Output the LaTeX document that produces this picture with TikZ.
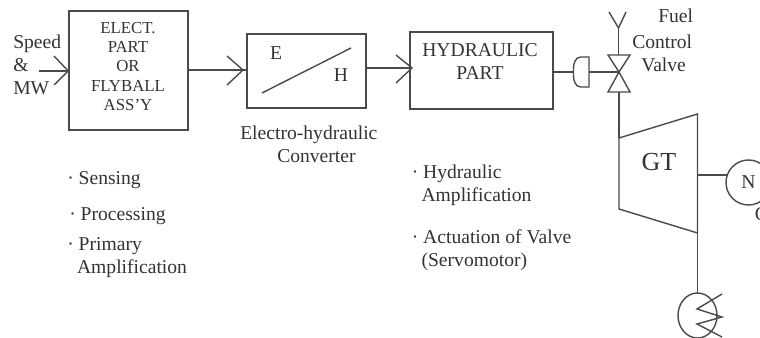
\documentclass[tikz,border=0pt]{standalone}
\usepackage{fontspec}
\setmainfont{Liberation Serif}
\definecolor{ink}{HTML}{4A4A4A}
\definecolor{txt}{HTML}{333333}
\tikzset{
  x=0.75pt,y=-0.75pt,
  ln/.style={draw=ink,line width=1.05pt},
  blockbox/.style={draw=ink,line width=1.2pt,inner sep=0pt},
  small/.style={text=txt,inner sep=0pt,align=center,font=\fontsize{12.6}{14.5}\selectfont},
  lab/.style={text=txt,inner sep=0pt,align=left,anchor=base west,font=\fontsize{14.7}{17.5}\selectfont},
  mid/.style={text=txt,inner sep=0pt,align=center,font=\fontsize{14.7}{17.2}\selectfont},
  big/.style={text=txt,inner sep=0pt,font=\fontsize{19.5}{22}\selectfont},
}
\begin{document}
\begin{tikzpicture}
\useasboundingbox (0,0) rectangle (760,338);
\begin{scope}
\clip (0,0) rectangle (760,338);
\node[blockbox,minimum width=89.25pt,minimum height=89.25pt] (b1) at (128.5,70.5) {};
\node[small] (b1t) at (128,66.5) {ELECT.\\PART\\OR\\FLYBALL\\ASS’Y};
\node[blockbox,minimum width=89.25pt,minimum height=55.5pt] (b2) at (306.5,71) {};
\node[blockbox,minimum width=107.25pt,minimum height=57.75pt] (b3) at (481.5,70.5) {};
\node[mid] (b3t) at (480,61.5) {HYDRAULIC\\PART};
% input arrow
\coordinate (in) at (39,71);
\coordinate (i1) at (54,56); \coordinate (i2) at (54,85);
\draw[ln] (in) -- (b1.west |- in);
\draw[ln] (i1) -- (b1.west |- in) -- (i2);
% first connector
\coordinate (a0) at (b1.east |- 0,70);
\coordinate (a1) at (227,56); \coordinate (a2) at (227,85); \coordinate (a3) at (243,70);
\draw[ln] (a0) -- (b2.west |- a0);
\draw[ln] (a1) -- (a3) -- (a2);
% second connector
\coordinate (c0) at (b2.east |- 0,68);
\coordinate (c1) at (396,55); \coordinate (c2) at (396,83); \coordinate (c3) at (412,68);
\draw[ln] (c0) -- (c3);
\draw[ln] (c1) -- (c3) -- (c2);
% converter contents
\coordinate (d1) at (262,93); \coordinate (d2) at (351,48);
\draw[ln] (d1) -- (d2);
\node[mid] (e) at (276,53) {E};
\node[mid] (h) at (341,75) {H};
% actuator and valve
\coordinate (v) at (619,72);
\draw[ln] (589,57) -- (581,57) to[out=180,in=90] (573.5,68) -- (573.5,76) to[out=-90,in=180] (581,87) -- (589,87) -- cycle;
\draw[ln] (b3.east |- v) -- (573.5,72);
\draw[ln] (589,72) -- (v);
\draw[ln] (608,55) -- (630,55) -- (v) -- cycle;
\draw[ln] (608,92) -- (630,92) -- (v) -- cycle;
% fuel
\draw[ln] (618.5,55) -- (618.5,28);
\draw[ln] (609,12) -- (618.5,28) -- (626,12);
\draw[ln] (619,92) -- (619,138);
% turbine
\draw[ln] (619,138) -- (697.5,114) -- (697.5,233) -- (619,209) -- cycle;
\node[big] (gt) at (659,162) {GT};
% generator
\node[draw=ink,line width=1.05pt,circle,minimum size=33.75pt,inner sep=0pt,text=txt,font=\fontsize{14.7}{16}\selectfont] (n) at (748.5,182.5) {N};
\coordinate (t) at (697.5,175);
\draw[ln] (t) -- (726.7,175);
\node[lab] (g) at (754.5,221) {G};
% condenser
\draw[ln] (697.5,233) -- (697.5,293);
\draw[ln] (697.5,315.5) ellipse [x radius=19.5,y radius=22.5];
\draw[ln] (722,294) -- (697,309) -- (722,317) -- (697,324) -- (722,337);
% texts
\node[lab] (s) at (13,95) {Speed\\\&\\MW};
\node[lab] (f1) at (658,23) {Fuel};
\node[lab] (f2) at (632,72) {Control\\\hspace*{6.75pt}Valve};
\node[lab] (ehc) at (240,163) {Electro-hydraulic\\\hspace*{27.75pt}Converter};
\node[lab] (l1) at (67,185) {· Sensing};
\node[lab] (l2) at (69,221) {· Processing};
\node[lab] (l3) at (67,274) {· Primary\\\hspace*{0.5em}Amplification};
\node[lab] (r1) at (411.5,202) {· Hydraulic\\\hspace*{0.5em}Amplification};
\node[lab] (r2) at (411.5,267) {· Actuation of Valve\\\hspace*{0.5em}(Servomotor)};
\end{scope}
\end{tikzpicture}
\end{document}
